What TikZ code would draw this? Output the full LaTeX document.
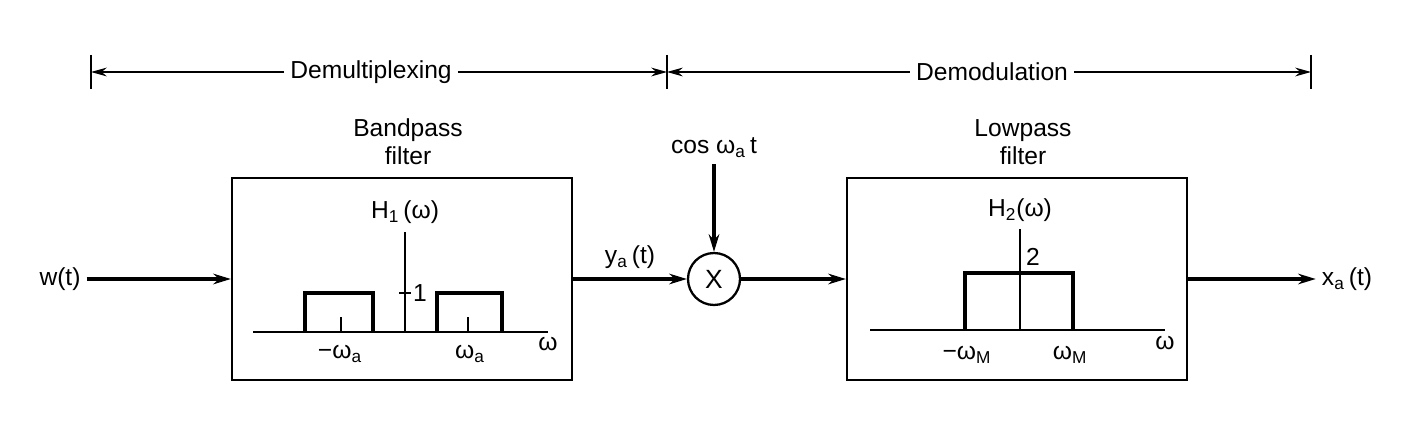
\documentclass[tikz,border=0pt]{standalone}
\usepackage{fontspec}
\setmainfont{Liberation Sans}
\usetikzlibrary{arrows.meta, positioning}

\begin{document}
\begin{tikzpicture}[
  x=0.02cm, y=-0.02cm,
  font=\fontsize{14}{16}\selectfont,
  filt/.style={draw, line width=1.3pt, minimum width=6.8cm, minimum height=4.04cm, inner sep=0pt},
  sig/.style={->, line width=1.8pt},
  dim/.style={->, line width=0.6pt, >={Stealth[length=9pt, width=5pt]}},
  axis/.style={line width=0.7pt},
  resp/.style={line width=2pt},
  >={Stealth[length=10pt, width=6pt]}
]
\useasboundingbox (0,0) rectangle (1409,429);

% dimension line on top
\coordinate (dl) at (91,72);
\coordinate (dm) at (667,72);
\coordinate (dr) at (1311,72);
\draw[axis] (dl) ++(0,-17) -- ++(0,34);
\draw[axis] (dm) ++(0,-17) -- ++(0,34);
\draw[axis] (dr) ++(0,-17) -- ++(0,34);
\node (demux) at (371,72) {Demultiplexing};
\node (demod) at (992,72) {Demodulation};
\draw[dim] (demux) -- (dl);
\draw[dim] (demux) -- (dm);
\draw[dim] (demod) -- (dm);
\draw[dim] (demod) -- (dr);

% blocks
\node (w)   at (60,279)   {w(t)};
\node[filt] (bpf) at (402,279) {};
\node[align=center] (bpft) at (408,142) {Bandpass\\filter};
\node[draw, circle, line width=1.3pt, minimum size=1.04cm, inner sep=0pt,
      font=\fontsize{15}{16}\selectfont] (mult) at (714,279) {X};
\node (cos) at (714,148) {cos ω\textsubscript{a}\,t};
\node (ya)  at (630,257) {y\textsubscript{a}\,(t)};
\node[filt] (lpf) at (1017,279) {};
\node[align=center] (lpft) at (1023,142) {Lowpass\\filter};
\node (xa)  at (1347,279) {x\textsubscript{a}\,(t)};

\draw[sig] (w)    -- (bpf);
\draw[sig] (bpf)  -- (mult);
\draw[sig] (cos)  -- (mult);
\draw[sig] (mult) -- (lpf);
\draw[sig] (lpf)  -- (xa);

% H1 plot
\draw[axis] (253,332) -- (548,332);
\draw[axis] (405,232) -- (405,332);
\draw[resp] (305,332) |- (373,293) -- (373,332);
\draw[resp] (437,332) |- (502,293) -- (502,332);
\draw[axis] (341,332) -- (341,317);
\draw[axis] (468,332) -- (468,317);
\draw[axis] (399,293) -- (411,293);
\node (h1)  at (405,212) {H\textsubscript{1}\,(ω)};
\node[anchor=west, inner sep=1pt] (one) at (411,293) {1};
\node (nwa) at (340,354) {−ω\textsubscript{a}};
\node (pwa) at (470,354) {ω\textsubscript{a}};
\node (w1)  at (548,344) {ω};

% H2 plot
\draw[axis] (870,330) -- (1165,330);
\draw[axis] (1020,229) -- (1020,330);
\draw[resp] (965,330) |- (1073,273) -- (1073,330);
\node (h2)  at (1020,210) {H\textsubscript{2}(ω)};
\node (two) at (1033,257) {2};
\node (nwm) at (967,355) {−ω\textsubscript{M}};
\node (pwm) at (1070,355) {ω\textsubscript{M}};
\node (w2)  at (1165,343) {ω};
\end{tikzpicture}
\end{document}
